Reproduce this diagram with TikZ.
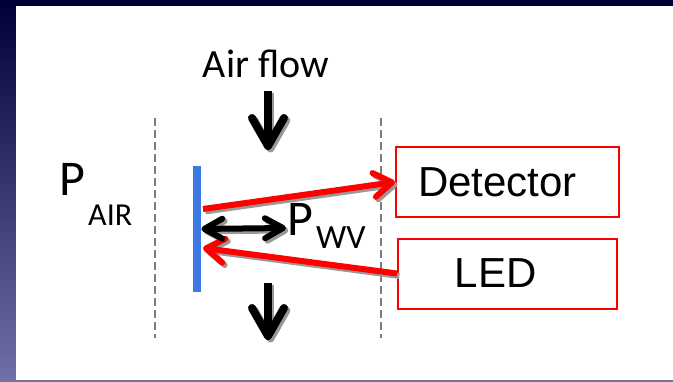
\documentclass[tikz,border=0pt]{standalone}
\usepackage{fontspec}
\setmainfont{Carlito}
\newfontfamily\arialfont{Liberation Sans}
\usetikzlibrary{positioning,arrows.meta,calc}
\definecolor{cnavy}{RGB}{0,0,55}
\definecolor{cblue}{RGB}{0,0,135}
\definecolor{clav}{RGB}{112,112,168}
\definecolor{cmirror}{RGB}{58,122,226}
\definecolor{cwall}{RGB}{125,125,125}

\begin{document}
\begin{tikzpicture}[x=0.5pt,y=-0.5pt,
    every node/.style={inner sep=0pt},
    box/.style={draw=red, line width=1pt, minimum width=111.5pt, minimum height=35pt},
    lbl/.style={font=\arialfont\fontsize{21pt}{24pt}\selectfont},
    mirror/.style={fill=cmirror, minimum width=4pt, minimum height=63pt},
    wall/.style={draw=cwall, line width=1pt, dash pattern=on 4pt off 2pt},
    ghost/.style={draw=black!40},
    flow/.style={line width=4pt, -{Straight Barb[length=14pt,width=16pt,round]}},
    ray/.style={draw=red, line width=3pt, -{Straight Barb[length=9pt,width=12pt,round]}},
    gap/.style={line width=3pt,
      {Straight Barb[length=9pt,width=10pt,round]}-{Straight Barb[length=9pt,width=10pt,round]}},
  ]

  % ── Frame ────────────────────────────────────────────
  \useasboundingbox (0,0) rectangle (673,381);
  \shade[top color=cnavy, middle color=cblue, bottom color=clav] (0,0) rectangle (673,381);
  \fill[white] (16,6) rectangle (673,380);

  % ── Labels ───────────────────────────────────────────
  \node[font=\fontsize{20pt}{24pt}\selectfont] (air) at (266,64) {Air flow};
  \node[anchor=base west, font=\fontsize{25pt}{28pt}\selectfont] (pair) at (59,195)
    {P\hspace{1.5pt}\raisebox{-15pt}{\fontsize{16pt}{18pt}\selectfont AIR}};
  \node[anchor=base west, font=\fontsize{25pt}{28pt}\selectfont] (pwv) at (287,235)
    {P\hspace{1.5pt}\raisebox{-6.5pt}{\fontsize{17pt}{18pt}\selectfont WV}};

  % ── Chamber ──────────────────────────────────────────
  \coordinate (wl1) at (155,118);
  \coordinate (wl2) at (155,338);
  \coordinate (wr1) at (381,118);
  \coordinate (wr2) at (381,338);
  \draw[wall] (wl1) -- (wl2);
  \draw[wall] (wr1) -- (wr2);

  \node[mirror] (bar) at (197,229) {};
  \node[box, label={[lbl,xshift=-5pt]center:Detector}] (det) at (507.5,182) {};
  \node[box, minimum width=109.5pt, label={[lbl,xshift=-6pt]center:LED}] (led) at (507.5,273.5) {};

  % ── Arrows ───────────────────────────────────────────
  \coordinate (in1)  at (268,91);
  \coordinate (in2)  at (268,150);
  \coordinate (out1) at (268,283);
  \coordinate (out2) at (268,340);
  \coordinate (hit)  at (203,209);
  \coordinate (back) at (203,248);
  \coordinate (wvtip) at (286,228);

  % shadows first, then the arrows on top
  \begin{scope}[transform canvas={xshift=1.2pt,yshift=-1.2pt}]
    \draw[flow,ghost] (in1) -- (in2);
    \draw[flow,ghost] (out1) -- (out2);
    \draw[ray,ghost]  (hit) -- (det.west);
    \draw[ray,ghost]  (led.west) -- (back);
    \draw[gap,ghost]  (bar) -- (wvtip);
  \end{scope}

  \draw[flow] (in1) -- (in2);
  \draw[flow] (out1) -- (out2);
  \draw[ray]  (hit) -- (det.west);
  \draw[ray]  (led.west) -- (back);
  \draw[gap]  (bar) -- (wvtip);

\end{tikzpicture}
\end{document}
